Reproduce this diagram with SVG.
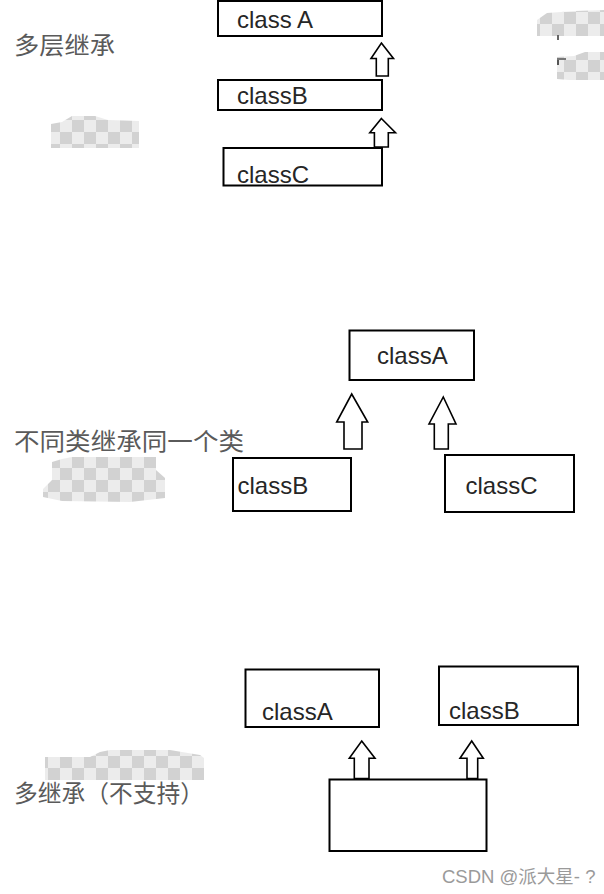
<svg xmlns="http://www.w3.org/2000/svg" width="604" height="894" viewBox="0 0 604 894">
<defs>
<pattern id="chk" patternUnits="userSpaceOnUse" width="24" height="24">
<rect width="24" height="24" fill="#ececec"/>
<rect width="12" height="12" fill="#d2d2d2"/>
<rect x="12" y="12" width="12" height="12" fill="#d2d2d2"/>
</pattern>
</defs>
<style>
.box{fill:#fff;stroke:#000;stroke-width:2}
.cls{font-family:"Liberation Sans",Arial,sans-serif;font-size:24px;fill:#262626}
.lbl{font-family:"Noto Sans CJK SC","Noto Sans",sans-serif;font-size:24px;fill:#5a5a5a}
.arr{fill:#fff;stroke:#000;stroke-width:1.6;stroke-linejoin:miter}
.wm{font-family:"Liberation Sans","Noto Sans CJK SC",sans-serif;font-size:18.5px;fill:#9a9a9a}
.chk{fill:url(#chk)}
</style>
<rect width="604" height="894" fill="#fff"/>

<g id="patches">
<path class="chk" d="M51,124 L62,122 L72,116 L95,116 L108,120 L139,121 L139,148 L51,148 Z"/>
<path class="chk" d="M537,20 L547,13 L575,11 L604,10 L604,36 L537,36 Z"/>
<path class="chk" d="M557,57 L574,56 L585,52 L604,52 L604,80 L569,80 L557,79 Z"/>
<path class="chk" d="M52,462 L62,459 L72,457 L156,457 L156,470 L165,478 L165,498 L130,502 L62,501 L43,497 L43,489 L52,480 Z"/>
<path class="chk" d="M45,757 L90,757 L100,752 L110,750 L170,750 L200,755 L204,758 L204,780 L45,780 Z"/>
<rect x="557" y="35" width="2" height="5" fill="#666"/>
<rect x="557" y="58" width="2" height="7" fill="#555"/>
<rect x="557" y="58" width="9" height="2" fill="#777"/>
</g>

<g id="label-multilevel"><text class="lbl" x="14" y="54" textLength="101" lengthAdjust="spacingAndGlyphs">多层继承</text></g>
<g id="label-hierarchical"><text class="lbl" x="14" y="450" textLength="230" lengthAdjust="spacingAndGlyphs">不同类继承同一个类</text></g>
<g id="label-multiple"><text class="lbl" x="14" y="802" textLength="190" lengthAdjust="spacingAndGlyphs">多继承（不支持）</text></g>

<g id="s1-classA"><rect class="box" x="218" y="1" width="164" height="35"/><text class="cls" x="237" y="28">class A</text></g>
<g id="s1-classB"><rect class="box" x="218" y="80" width="164" height="30"/><text class="cls" x="237" y="104">classB</text></g>
<g id="s1-classC"><rect class="box" x="223.5" y="148" width="158.5" height="37.5"/><text class="cls" x="237" y="183">classC</text></g>

<g id="s2-classA"><rect class="box" x="349.5" y="330.5" width="124.5" height="49.5"/><text class="cls" x="377" y="364">classA</text></g>
<g id="s2-classB"><rect class="box" x="233" y="458" width="118" height="53"/><text class="cls" x="237.5" y="494">classB</text></g>
<g id="s2-classC"><rect class="box" x="445" y="455" width="129" height="57"/><text class="cls" x="465.5" y="494">classC</text></g>

<g id="s3-classA"><rect class="box" x="245.5" y="669.5" width="133.5" height="57.5"/><text class="cls" x="262" y="720">classA</text></g>
<g id="s3-classB"><rect class="box" x="439" y="666.5" width="139" height="58.5"/><text class="cls" x="449" y="719">classB</text></g>
<g id="s3-child"><rect class="box" x="329.5" y="779.5" width="157" height="71.5"/></g>

<g id="connectors">
<path class="arr" d="M381.4,43 L393.5,58.5 L388.3,58.5 L388.3,76 L376.3,76 L376.3,58.5 L371,58.5 Z"/>
<path class="arr" d="M381.4,118.5 L395.5,132.7 L388.3,132.7 L388.3,147 L374.4,147 L374.4,132.7 L369.8,132.7 Z"/>
<path class="arr" d="M351.7,394 L367.7,422 L362,422 L362,449 L344,449 L344,422 L336.7,422 Z"/>
<path class="arr" d="M443.3,397 L456,424 L448.3,424 L448.3,449 L434.3,449 L434.3,424 L429,424 Z"/>
<path class="arr" d="M361.7,741 L375,758.3 L369,758.3 L369,778.5 L354.3,778.5 L354.3,758.3 L349.3,758.3 Z"/>
<path class="arr" d="M471.7,741 L483.3,758.3 L477.7,758.3 L477.7,778.5 L467,778.5 L467,758.3 L460,758.3 Z"/>
</g>

<g id="watermark"><text class="wm" x="442" y="883">CSDN @派大星- ?</text></g>
</svg>
